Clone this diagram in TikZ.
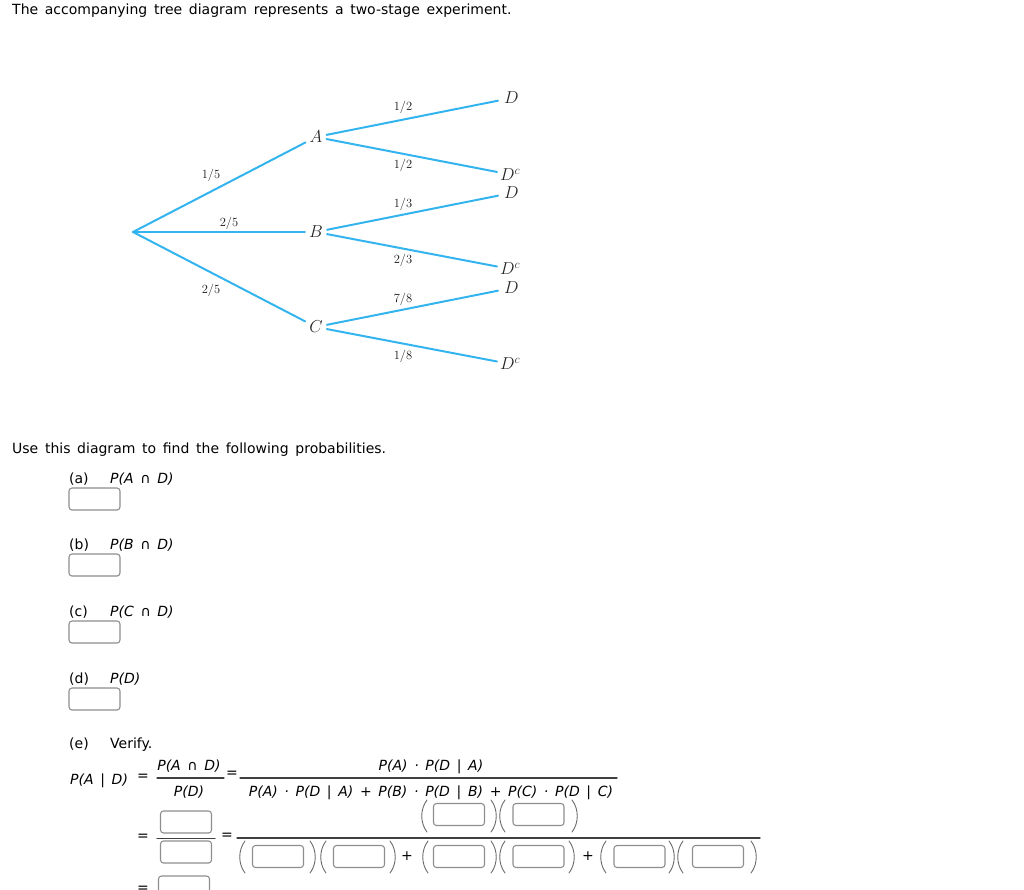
\documentclass[tikz,border=0pt]{standalone}
\usepackage{fontspec}
\usepackage{amsmath}
\usepackage{tikz}
\newfontfamily\qfont{DejaVu Sans}
\newfontfamily\mfont[WordSpace=1.5]{DejaVu Sans}
\definecolor{treeblue}{HTML}{33B4EF}
\definecolor{boxgray}{HTML}{8E8E8E}
\definecolor{pargray}{HTML}{6A6A6A}
\newcommand{\parL}[2]{\draw[paren] (#1+3,#2-16) .. controls (#1-4,#2-7) and (#1-4,#2+7) .. (#1+3,#2+16);}
\newcommand{\parR}[2]{\draw[paren] (#1-3,#2-16) .. controls (#1+4,#2-7) and (#1+4,#2+7) .. (#1-3,#2+16);}

\begin{document}
\begin{tikzpicture}[line cap=round,line join=round,x=1pt,y=-1pt,
  branch/.style={treeblue,line width=2pt},
  stage/.style={inner xsep=4pt,inner ysep=1pt,text=black!85,font=\fontsize{18}{18}\selectfont},
  leaf/.style={anchor=west,inner xsep=3pt,inner ysep=1pt,text=black!85,font=\fontsize{18}{18}\selectfont},
  prob/.style={inner sep=0pt,text=black!90,font=\fontsize{12.5}{13}\selectfont},
  txt/.style={anchor=base west,inner sep=0pt,font=\qfont\fontsize{14}{17}\selectfont},
  itxt/.style={txt,font=\mfont\itshape\fontsize{14}{17}\selectfont},
  mth/.style={anchor=base,inner sep=0pt,font=\mfont\itshape\fontsize{14}{17}\selectfont},
  eqs/.style={inner sep=0pt,font=\qfont\fontsize{14}{17}\selectfont},
  ansbox/.style={draw=boxgray,line width=1.1pt,rounded corners=3pt,minimum width=51pt,minimum height=22pt,inner sep=0pt},
  fracbar/.style={black!75,line width=1.3pt},
  paren/.style={pargray,line width=0.9pt}]
\clip (0,0) rectangle (1024,889);

% tree
\coordinate (root) at (133,232);
\node[stage] (A) at (316,137) {$A$};
\node[stage] (B) at (316,232) {$B$};
\node[stage] (C) at (316,327) {$C$};
\node[leaf,inner xsep=6pt] (AD) at (498,98) {$D$};
\node[leaf] (ADc) at (497,174.5) {$D^c$};
\node[leaf,inner xsep=6pt] (BD) at (498,193) {$D$};
\node[leaf] (BDc) at (497,269) {$D^c$};
\node[leaf,inner xsep=6pt] (CD) at (498,288) {$D$};
\node[leaf] (CDc) at (497,364) {$D^c$};
\draw[branch] (root) -- (A);
\draw[branch] (root) -- (B);
\draw[branch] (root) -- (C);
\draw[branch] (A) -- (AD);
\draw[branch] (A) -- (ADc);
\draw[branch] (B) -- (BD);
\draw[branch] (B) -- (BDc);
\draw[branch] (C) -- (CD);
\draw[branch] (C) -- (CDc);
\node[prob] (pA) at (211,175) {1/5};
\node[prob] (pB) at (229,223) {2/5};
\node[prob] (pC) at (211,290) {2/5};
\node[prob] (pAD) at (403,107) {1/2};
\node[prob] (pADc) at (403,165) {1/2};
\node[prob] (pBD) at (403,204) {1/3};
\node[prob] (pBDc) at (403,260) {2/3};
\node[prob] (pCD) at (403,299) {7/8};
\node[prob] (pCDc) at (403,356) {1/8};

% question text
\node[txt] (title) at (12,14) {The accompanying tree diagram represents a two-stage experiment.};
\node[txt] (use) at (12,453) {Use this diagram to find the following probabilities.};
\foreach \lab/\ex/\y in {a/{P(A ∩ D)}/483, b/{P(B ∩ D)}/549, c/{P(C ∩ D)}/616, d/{P(D)}/683}
{
  \node[txt] (q\lab) at (69,\y) {(\lab)};
  \node[itxt] (e\lab) at (110,\y) {\ex};
  \node[ansbox] (box\lab) at (94.5,\y+16) {};
}

% part (e)
\node[txt] (qe) at (69,748) {(e)};
\node[txt] (verify) at (110,748) {Verify.};
\node[itxt] (PAD) at (70,784) {P(A | D)};
\node[eqs] (eq1) at (143,777) {=};
\node[mth] (num1) at (189,770) {P(A ∩ D)};
\draw[fracbar] (157,778) -- (224,778);
\node[mth] (den1) at (189,796) {P(D)};
\node[eqs] (eq2) at (232,774) {=};
\node[mth] (num2) at (431,770) {P(A) · P(D | A)};
\draw[fracbar] (240,778) -- (617,778);
\node[mth] (den2) at (431,796) {P(A) · P(D | A) + P(B) · P(D | B) + P(C) · P(D | C)};

\node[eqs] (eq3) at (143,837) {=};
\node[ansbox] (top1) at (186,822) {};
\draw[fracbar] (157,838.5) -- (215,838.5);
\node[ansbox] (bot1) at (186,852) {};
\node[eqs] (eq4) at (227,836) {=};
\draw[fracbar] (237,838) -- (760,838);

\node[ansbox] (n1) at (459,814.5) {};
\node[ansbox] (n2) at (538.5,814.5) {};
\parL{424}{816} \parR{494}{816} \parL{502}{816} \parR{575}{816}
\foreach \x [count=\i] in {278,359,459,538.5,639.5,718}
  \node[ansbox] (d\i) at (\x,856.5) {};
\foreach \x in {242,323,425,502,603,680} { \parL{\x}{857} }
\foreach \x in {313,393,494,572,672,754} { \parR{\x}{857} }
\node[eqs] (plus1) at (407,856) {+};
\node[eqs] (plus2) at (588,856) {+};

\node[eqs] (eq5) at (143,889) {=};
\node[ansbox] (last) at (184,887) {};
\end{tikzpicture}
\end{document}
